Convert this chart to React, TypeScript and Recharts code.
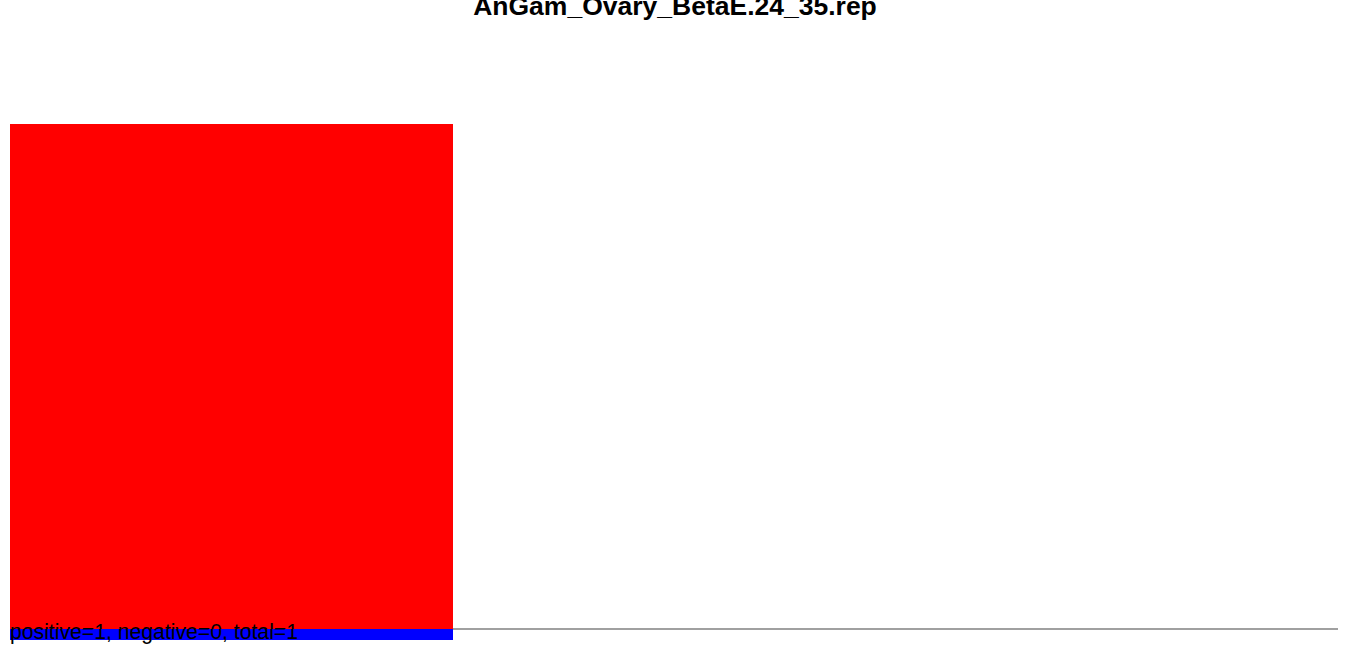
import React from "react";
import { BarChart, Bar, XAxis, YAxis, ReferenceLine } from "recharts";

const title = "AnGam_Ovary_BetaE.24_35.rep";
const categories = ["slot1", "slot2", "slot3"];
const positiveValues = [1, 0, 0];
const negativeValues = [-0.0218, 0, 0];
const summaryText = "positive=1, negative=0, total=1";
const yDomain: [number, number] = [-0.0218, 1];

const data = categories.map((c, i) => ({
  name: c,
  positive: positiveValues[i],
  negative: negativeValues[i],
}));

export default function App() {
  return (
    <div style={{ position: "absolute", left: 0, top: 0, width: 1350, height: 655, background: "#fff" }}>
      <BarChart
        width={1350}
        height={655}
        data={data}
        margin={{ top: 124, right: 12, bottom: 15, left: 10 }}
        barCategoryGap={0}
        barGap={0}
        stackOffset="sign"
      >
        <XAxis dataKey="name" hide />
        <YAxis hide domain={yDomain} allowDataOverflow />
        <ReferenceLine y={0} stroke="#a0a0a0" strokeWidth={2} {...({ zIndex: -50 } as any)} />
        <Bar dataKey="positive" stackId="a" fill="#ff0000" isAnimationActive={false} />
        <Bar dataKey="negative" stackId="a" fill="#0000ff" isAnimationActive={false} />
      </BarChart>
      <svg
        width={1350}
        height={655}
        style={{ position: "absolute", left: 0, top: 0, pointerEvents: "none" }}
      >
        <text
          x={675}
          y={15.3}
          textAnchor="middle"
          fontFamily="Liberation Sans, Arial, sans-serif"
          fontWeight="bold"
          fontSize={26.5}
          fill="#000"
        >
          {title}
        </text>
        <text
          x={10}
          y={639}
          fontFamily="Liberation Sans, Arial, sans-serif"
          fontSize={21.2}
          fill="#000"
        >
          {summaryText}
        </text>
      </svg>
    </div>
  );
}
